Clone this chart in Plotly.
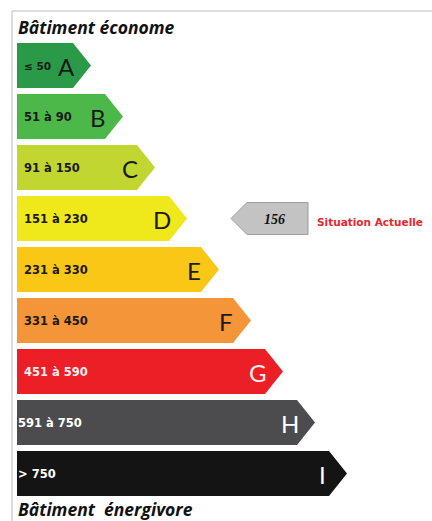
import plotly.graph_objects as go

# ---- data ----
classes = ["A", "B", "C", "D", "E", "F", "G", "H", "I"]
ranges = ["\u2264 50", "51 à 90", "91 à 150", "151 à 230", "231 à 330",
          "331 à 450", "451 à 590", "591 à 750", "> 750"]
upper_bounds = [50, 90, 150, 230, 330, 450, 590, 750, float("inf")]
colors = ["#2b9a48", "#4cb849", "#c2d631", "#efe81a", "#fbc716",
          "#f4953a", "#ec1f26", "#4c4c4e", "#141414"]
text_colors = ["#1a1a1a", "#1a1a1a", "#1a1a1a", "#1a1a1a", "#1a1a1a",
               "#1a1a1a", "#fbeeee", "#ffffff", "#ffffff"]
current_value = 156
title_top = "Bâtiment économe"
title_bottom = "Bâtiment\u00a0 énergivore"
current_label = "Situation Actuelle"

# ---- layout constants (pixel-like data space) ----
W, H = 432, 521
row_top0, row_step, row_h = 43, 51, 45
left_x = 17
tip0, tip_step, tip_depth = 91, 32, 18

fig = go.Figure()
annotations = []

for i, (cls, rng, col, tcol) in enumerate(zip(classes, ranges, colors, text_colors)):
    top = row_top0 + row_step * i
    bot = top + row_h
    mid = (top + bot) / 2
    tip = tip0 + tip_step * i
    body = tip - tip_depth
    fig.add_trace(go.Scatter(
        x=[left_x, body, tip, body, left_x, left_x],
        y=[top, top, mid, bot, bot, top],
        mode="lines", fill="toself", fillcolor=col,
        line=dict(width=0, color=col), hoverinfo="skip", showlegend=False))
    annotations.append(dict(
        x=(left_x + 5 if i < 7 else left_x - 1), y=mid, xref="x", yref="y",
        text=rng, showarrow=False, xanchor="left", yanchor="middle",
        font=dict(family="DejaVu Sans", size=(10.5 if i == 0 else 11.5),
                  color=tcol, weight="bold")))
    annotations.append(dict(
        x=tip - 25, y=mid + 1, xref="x", yref="y",
        text=cls, showarrow=False, xanchor="center", yanchor="middle",
        font=dict(family="Lato", size=24, color=tcol)))

# current situation pointer
idx = next(i for i, ub in enumerate(upper_bounds) if current_value <= ub)
ptop = row_top0 + row_step * idx
pmid = ptop + row_h / 2
ph = 16
px_tip, px_body, px_right = 231, 247, 308
fig.add_trace(go.Scatter(
    x=[px_tip, px_body, px_right, px_right, px_body, px_tip],
    y=[pmid, pmid - ph, pmid - ph, pmid + ph, pmid + ph, pmid],
    mode="lines", fill="toself", fillcolor="#c3c3c3",
    line=dict(width=1, color="#9d9d9d"), hoverinfo="skip", showlegend=False))
annotations.append(dict(
    x=274, y=pmid + 1, xref="x", yref="y", text="<i>%d</i>" % current_value,
    showarrow=False, xanchor="center", yanchor="middle",
    font=dict(family="Liberation Serif", size=14, color="#111111", weight="bold")))
annotations.append(dict(
    x=315, y=pmid + 3, xref="x", yref="y", text=current_label,
    showarrow=False, xanchor="left", yanchor="middle",
    font=dict(family="DejaVu Sans", size=10.5, color="#e5282e", weight="bold")))

# titles
annotations.append(dict(
    x=16, y=27, xref="x", yref="y", text="<i>%s</i>" % title_top,
    showarrow=False, xanchor="left", yanchor="middle",
    font=dict(family="Open Sans", size=17.5, color="#111111", weight="bold")))
annotations.append(dict(
    x=16, y=509, xref="x", yref="y", text="<i>%s</i>" % title_bottom,
    showarrow=False, xanchor="left", yanchor="middle",
    font=dict(family="Open Sans", size=17.5, color="#111111", weight="bold")))

# frame
shapes = [
    dict(type="line", xref="x", yref="y", x0=12, y0=11, x1=W, y1=11,
         line=dict(color="#d2d2d2", width=1.5)),
    dict(type="line", xref="x", yref="y", x0=12, y0=11, x1=12, y1=H,
         line=dict(color="#d2d2d2", width=1.5)),
]

fig.update_layout(
    width=W, height=H, margin=dict(l=0, r=0, t=0, b=0),
    paper_bgcolor="white", plot_bgcolor="white",
    xaxis=dict(range=[0, W], visible=False, fixedrange=True),
    yaxis=dict(range=[H, 0], visible=False, fixedrange=True),
    annotations=annotations, shapes=shapes, showlegend=False,
)

fig.write_html("out.html", config={"displayModeBar": False},
               post_script="document.body.style.margin='0';document.body.style.overflow='hidden';")
